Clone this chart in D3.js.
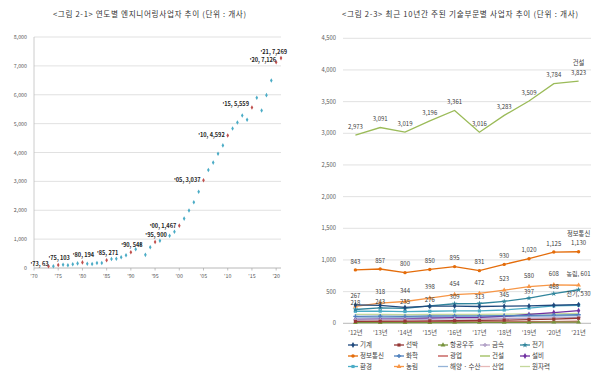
<!DOCTYPE html>
<html><head><meta charset="utf-8">
<script src="https://cdn.jsdelivr.net/npm/d3@7"></script>
<style>
html,body{margin:0;padding:0;background:#fff;}
svg{display:block;}
text{font-family:"Noto Sans CJK KR","Noto Sans",sans-serif;}
</style></head>
<body>
<svg id="c" width="600" height="382"></svg>
<script>
// ---------- Left chart data ----------
const leftTitle = "<그림 2-1> 연도별 엔지니어링사업자 추이 (단위 : 개사)";
const leftYears = [1973,1974,1975,1976,1977,1978,1979,1980,1981,1982,1983,1984,1985,1986,1987,1988,1989,1990,1991,1992,1993,1994,1995,1996,1998,1999,2000,2001,2002,2003,2004,2005,2006,2007,2008,2009,2010,2011,2012,2013,2014,2015,2016,2017,2018,2019,2020,2021];
const leftValues = [63,60,103,115,95,130,160,194,150,140,175,175,271,310,320,370,440,548,650,820,455,716,900,945,1118,1256,1467,1710,1990,2280,2640,3037,3391,3650,3960,4246,4592,4830,5042,5284,5133,5559,5893,5457,5986,6495,7126,7269];
const leftHighlight = [1973,1975,1980,1985,1990,1995,2000,2005,2010,2015,2020,2021];
const leftYTicks = [0,1000,2000,3000,4000,5000,6000,7000,8000];
const leftXTicks = [1970,1975,1980,1985,1990,1995,2000,2005,2010,2015,2020];

// ---------- Right chart data ----------
const rightTitle = "<그림 2-3> 최근 10년간 주된 기술부문별 사업자 추이 (단위 : 개사)";
const rightYears = ["'12년","'13년","'14년","'15년","'16년","'17년","'18년","'19년","'20년","'21년"];
const rightYTicks = [0,500,1000,1500,2000,2500,3000,3500,4000,4500];
const seriesNames = ["기계","선박","항공우주","금속","전기","정보통신","화학","광업","건설","설비","환경","농림","해양 · 수산","산업","원자력"];
const s기계 = [290,283,250,270,272,265,270,275,285,295];
const s선박 = [30,33,35,38,40,45,50,58,65,80];
const s항공우주 = [10,10,12,12,13,14,15,16,18,20];
const s금속 = [55,58,60,65,70,70,75,80,85,95];
const s전기 = [218,243,235,276,309,313,345,397,468,530];
const s정보통신 = [843,857,800,850,895,831,930,1020,1125,1130];
const s화학 = [110,112,110,115,118,118,120,125,130,135];
const s광업 = [25,25,24,24,23,23,22,22,22,22];
const s건설 = [2973,3091,3019,3196,3361,3016,3283,3509,3784,3823];
const s설비 = [60,65,70,80,90,95,110,140,170,200];
const s환경 = [190,192,185,190,195,195,210,240,275,285];
const s농림 = [267,318,344,398,454,472,523,580,608,601];
const s해양수산 = [85,88,90,95,100,100,105,110,115,120];
const s산업 = [15,15,15,18,20,20,22,25,30,40];
const s원자력 = [140,140,135,140,140,140,145,150,150,155];
const seriesValues = [s기계,s선박,s항공우주,s금속,s전기,s정보통신,s화학,s광업,s건설,s설비,s환경,s농림,s해양수산,s산업,s원자력];
const labeledSeries = ["건설","정보통신","농림","전기"];

// ---------- styles ----------
const seriesColor = {"기계":"#1f497d","선박":"#953735","항공우주":"#77933c","금속":"#b3a2c7","전기":"#31859c","정보통신":"#e46c0a","화학":"#4f81bd","광업":"#c0504d","건설":"#9bbb59","설비":"#7030a0","환경":"#4bacc6","농림":"#f79646","해양 · 수산":"#95b3d7","산업":"#e6b9b8","원자력":"#c4d79b"};
const seriesMarker = {"기계":d3.symbolDiamond,"선박":d3.symbolSquare,"항공우주":d3.symbolTriangle,"금속":d3.symbolCross,"전기":d3.symbolStar,"정보통신":d3.symbolCircle,"화학":d3.symbolCross,"광업":null,"건설":null,"설비":d3.symbolDiamond,"환경":d3.symbolSquare,"농림":d3.symbolTriangle,"해양 · 수산":null,"산업":null,"원자력":null};

const svg = d3.select("#c");
const fmt = d3.format(",");

// ================= LEFT CHART =================
(function(){
  const g = svg.append("g");
  const x = d3.scaleLinear().domain([1970,2021]).range([34,281]);
  const y = d3.scaleLinear().domain([0,8000]).range([268,37]);

  g.append("text").attr("x",53).attr("y",16.5).attr("font-size",7.6).attr("fill","#333")
    .attr("textLength",193).attr("lengthAdjust","spacing").text(leftTitle);

  g.selectAll(".gl").data(leftYTicks).join("line")
    .attr("x1",34).attr("x2",281).attr("y1",d=>y(d)).attr("y2",d=>y(d))
    .attr("stroke",d=>d===0?"#a6a6a6":"#d9d9d9").attr("stroke-width",0.8);
  g.append("line").attr("x1",34).attr("x2",34).attr("y1",37).attr("y2",268).attr("stroke","#bfbfbf").attr("stroke-width",0.8);

  g.selectAll(".yl").data(leftYTicks).join("text")
    .attr("x",27).attr("y",d=>y(d)+2).attr("text-anchor","end")
    .attr("font-size",5.3).attr("fill","#595959").attr("font-family","Liberation Serif")
    .text(d=>fmt(d));

  g.selectAll(".xt").data(leftXTicks).join("line")
    .attr("x1",d=>x(d)).attr("x2",d=>x(d)).attr("y1",268).attr("y2",270.5).attr("stroke","#a6a6a6").attr("stroke-width",0.7);
  g.selectAll(".xl").data(leftXTicks).join("text")
    .attr("x",d=>x(d)).attr("y",277.5).attr("text-anchor","middle")
    .attr("font-size",5.3).attr("fill","#595959").attr("font-family","Liberation Serif")
    .text(d=>"'"+String(d).slice(2));

  const pts = leftYears.map((yr,i)=>({yr, v:leftValues[i], hl:leftHighlight.includes(yr)}));
  g.selectAll(".pt").data(pts).join("path")
    .attr("d",d3.symbol().type(d3.symbolDiamond).size(6))
    .attr("transform",d=>`translate(${x(d.yr)},${y(d.v)})`)
    .attr("fill",d=>d.hl?"#c0504d":"#4bacc6");

  const lab = pts.filter(d=>d.hl);
  g.selectAll(".lb").data(lab).join("text")
    .attr("font-size",5.6).attr("font-weight","bold").attr("fill","#262626").attr("font-family","Liberation Serif")
    .each(function(d){
      const px = x(d.yr), py = y(d.v);
      let tx, ty, anchor;
      if (d.yr===1973){ tx=px; ty=py; anchor="end"; }
      else if (d.yr<=1995){ tx=px+1; ty=py-5; anchor="middle"; }
      else if (d.yr===2021){ tx=px+6; ty=py-4; anchor="end"; }
      else if (d.yr===2020){ tx=px; ty=py; anchor="end"; }
      else if (d.yr===2015){ tx=px-3; ty=py-1.5; anchor="end"; }
      else { tx=px-3; ty=py+2; anchor="end"; }
      d3.select(this).attr("x",tx).attr("y",ty).attr("text-anchor",anchor)
        .text("'"+String(d.yr).slice(2)+", "+fmt(d.v));
    });
})();

// ================= RIGHT CHART =================
(function(){
  const g = svg.append("g");
  const x = d3.scaleBand().domain(rightYears).range([343,591]);
  const cx = d => x(d)+x.bandwidth()/2;
  const y = d3.scaleLinear().domain([0,4500]).range([323.3,38.3]);

  g.append("text").attr("x",342).attr("y",16.5).attr("font-size",7.6).attr("fill","#333")
    .attr("textLength",236).attr("lengthAdjust","spacing").text(rightTitle);

  g.selectAll(".gl").data(rightYTicks).join("line")
    .attr("x1",343).attr("x2",591).attr("y1",d=>y(d)).attr("y2",d=>y(d))
    .attr("stroke",d=>d===0?"#a6a6a6":"#d9d9d9").attr("stroke-width",0.8);
  g.selectAll(".yl").data(rightYTicks).join("text")
    .attr("x",336).attr("y",d=>y(d)+2).attr("text-anchor","end")
    .attr("font-size",5.8).attr("fill","#595959").attr("font-family","Liberation Serif")
    .text(d=>fmt(d));
  g.selectAll(".xl").data(rightYears).join("text")
    .attr("x",d=>cx(d)).attr("y",334.5).attr("text-anchor","middle")
    .attr("font-size",6.3).attr("fill","#595959").text(d=>d);

  const line = d3.line().x((d,i)=>cx(rightYears[i])).y(d=>y(d));
  const order = seriesNames.map((n,i)=>i).reverse();
  order.forEach(i=>{
    const name = seriesNames[i], vals = seriesValues[i], col = seriesColor[name];
    g.append("path").datum(vals).attr("d",line).attr("fill","none").attr("stroke",col).attr("stroke-width",1.3);
    const m = seriesMarker[name];
    if (m){
      g.selectAll(null).data(vals).join("path")
        .attr("d",d3.symbol().type(m).size(m===d3.symbolCircle?9:10))
        .attr("transform",(d,j)=>`translate(${cx(rightYears[j])},${y(d)})`)
        .attr("fill",col);
    }
  });

  // data labels
  labeledSeries.forEach(name=>{
    const vals = seriesValues[seriesNames.indexOf(name)];
    g.selectAll(null).data(vals).join("text")
      .attr("font-size",6).attr("fill","#404040").attr("text-anchor","middle").attr("font-family","Liberation Serif")
      .attr("x",(d,j)=>cx(rightYears[j]))
      .attr("y",(d,j)=>{
        if (name==="전기" && j===9) return y(d)+6;
        if (name==="전기") return y(d)-4.3;
        if (name==="농림") return y(d)-8.8;
        return y(d)-6.3;
      })
      .text((d,j)=>{
        if (j===9 && (name==="농림"||name==="전기")) return name+", "+fmt(d);
        return fmt(d);
      });
    if (name==="건설"||name==="정보통신"){
      g.append("text").attr("font-size",6.3).attr("fill","#404040").attr("text-anchor","middle")
        .attr("x",cx(rightYears[9])).attr("y",y(vals[9])-16).text(name);
    }
  });

  // legend
  const colX = [348,394,438,480,520];
  const rowY = [345,356,366.5];
  seriesNames.forEach((name,i)=>{
    const r = Math.floor(i/5), c = i%5;
    const lx = colX[c], ly = rowY[r], col = seriesColor[name];
    g.append("line").attr("x1",lx).attr("x2",lx+10).attr("y1",ly).attr("y2",ly).attr("stroke",col).attr("stroke-width",1.3);
    const m = seriesMarker[name];
    if (m) g.append("path").attr("d",d3.symbol().type(m).size(10)).attr("transform",`translate(${lx+5},${ly})`).attr("fill",col);
    g.append("text").attr("x",lx+12).attr("y",ly+2.3).attr("font-size",6.5).attr("fill","#404040").text(name);
  });
})();
</script>
</body></html>
